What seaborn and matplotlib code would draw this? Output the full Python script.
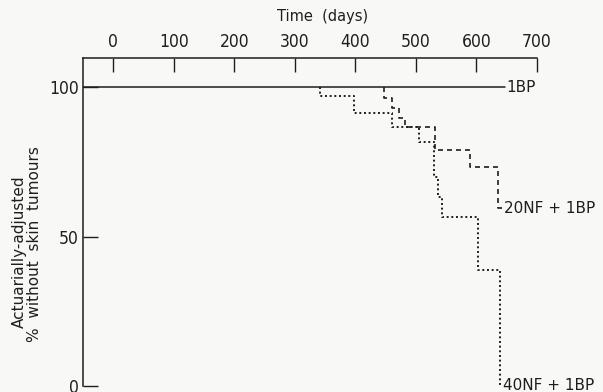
import matplotlib
matplotlib.use('Agg')
import matplotlib.pyplot as plt
import numpy as np
import pandas as pd
import seaborn as sns

# step curves (days, % without skin tumours)
bp_days = [-50, 647]
bp_pct = [100, 100]

nf20_days = [448, 448, 461, 472, 482, 532, 589, 636, 642]
nf20_pct = [100, 96.4, 93.1, 89.8, 86.7, 78.9, 73.3, 59.5, 59.5]

nf40_days = [342, 342, 397, 461, 505, 530, 536, 543, 603, 639]
nf40_pct = [100, 97.0, 91.2, 86.6, 81.7, 70.0, 63.3, 56.6, 38.8, 0.0]

group_labels = ['1BP', '20NF + 1BP', '40NF + 1BP']
x_ticks = [0, 100, 200, 300, 400, 500, 600, 700]
y_ticks = [0, 50, 100]

sns.set_style('ticks')
plt.rcParams['font.family'] = ['DejaVu Sans']
ink = '#1e1e1e'
paper = '#f8f8f6'

fig = plt.figure(figsize=(6.03, 3.92), dpi=100, facecolor=paper)
ax = fig.add_axes([83/603, 6/392, 454/603, 328/392])
ax.set_facecolor(paper)

bp = pd.DataFrame({'days': bp_days, 'pct': bp_pct})
nf20 = pd.DataFrame({'days': nf20_days, 'pct': nf20_pct})
nf40 = pd.DataFrame({'days': nf40_days, 'pct': nf40_pct})

sns.lineplot(data=bp, x='days', y='pct', ax=ax, color=ink, lw=1.1,
             estimator=None, sort=False)
sns.lineplot(data=nf20, x='days', y='pct', ax=ax, color=ink, lw=1.2,
             estimator=None, sort=False, drawstyle='steps-post',
             linestyle=(0, (3, 2.4)))
sns.lineplot(data=nf40, x='days', y='pct', ax=ax, color=ink, lw=1.4,
             estimator=None, sort=False, drawstyle='steps-post',
             linestyle=(0, (1, 1.4)))

# curve labels at the right ends
ax.text(bp_days[-1] + 3, bp_pct[-1], group_labels[0], fontsize=11,
        color=ink, va='center', ha='left', clip_on=False)
ax.text(nf20_days[-1] + 3, nf20_pct[-1], group_labels[1], fontsize=11,
        color=ink, va='center', ha='left', clip_on=False)
ax.text(nf40_days[-1] + 5, nf40_pct[-1], group_labels[2], fontsize=11,
        color=ink, va='center', ha='left', clip_on=False)

ax.set_xlim(-50, 700)
ax.set_ylim(0, 109.7)
ax.set_xticks(x_ticks)
ax.set_yticks(y_ticks)
ax.set_xticklabels([str(t) for t in x_ticks], fontsize=12.5, fontstretch='condensed', color=ink)
ax.set_yticklabels([str(t) for t in y_ticks], fontsize=12.5, fontstretch='condensed', color=ink)

ax.xaxis.tick_top()
ax.xaxis.set_label_position('top')
ax.tick_params(axis='x', direction='in', length=10, width=1, pad=5,
               top=True, bottom=False, color=ink)
ax.tick_params(axis='y', direction='in', length=11, width=1, pad=3,
               left=True, right=False, color=ink)
for side in ['right', 'bottom']:
    ax.spines[side].set_visible(False)
for side in ['left', 'top']:
    ax.spines[side].set_linewidth(1.1)
    ax.spines[side].set_color(ink)

ax.set_xlabel('')
ax.set_ylabel('')
fig.text(323/603, 1 - 16/392, 'Time  (days)', fontsize=10.5, color=ink,
         ha='center', va='center')
fig.text(19/603, 1 - 252/392, 'Actuarially-adjusted', rotation=90,
         fontsize=11, color=ink, ha='center', va='center')
fig.text(35/603, 1 - 244/392, '%  without  skin  tumours', rotation=90,
         fontsize=11, color=ink, ha='center', va='center')

fig.savefig('out.png', dpi=100, facecolor=paper)
